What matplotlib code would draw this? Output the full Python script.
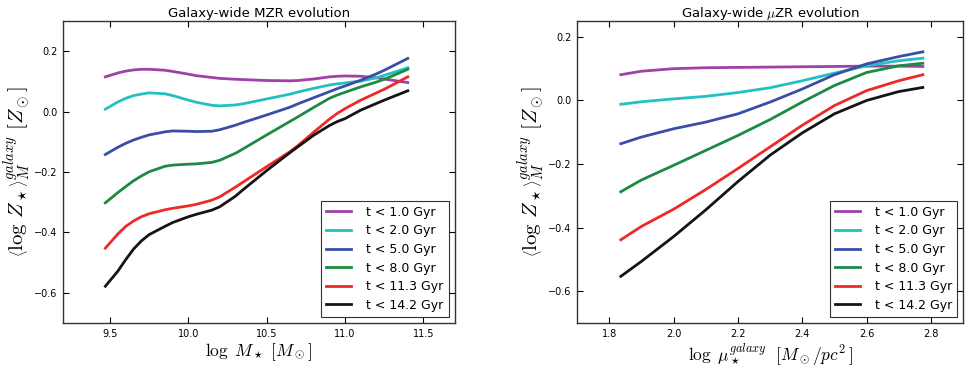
import matplotlib
matplotlib.use("Agg")
import matplotlib.pyplot as plt
from matplotlib.ticker import MultipleLocator

plt.rcParams['mathtext.fontset'] = 'cm'
plt.rcParams['font.family'] = 'DejaVu Sans'

labels = ["t < 1.0 Gyr", "t < 2.0 Gyr", "t < 5.0 Gyr", "t < 8.0 Gyr", "t < 11.3 Gyr", "t < 14.2 Gyr"]
colors = ["#a040a8", "#22c0c0", "#3a4ea6", "#1b8a42", "#f02828", "#141414"]

# left panel: mass-metallicity relation
mass_x = [9.47, 9.55, 9.6, 9.65, 9.7, 9.75, 9.85, 9.9, 10.0, 10.05, 10.15, 10.2, 10.3, 10.35, 10.5,
          10.65, 10.7, 10.8, 10.9, 10.95, 11.0, 11.1, 11.2, 11.25, 11.4]
mzr_1 = [0.115, 0.128, 0.134, 0.138, 0.140, 0.140, 0.137, 0.133, 0.124, 0.119, 0.113, 0.110, 0.107, 0.106, 0.103,
         0.102, 0.103, 0.108, 0.115, 0.117, 0.118, 0.117, 0.112, 0.108, 0.096]
mzr_2 = [0.008, 0.032, 0.044, 0.053, 0.058, 0.062, 0.059, 0.053, 0.038, 0.031, 0.021, 0.019, 0.022, 0.026, 0.042,
         0.058, 0.065, 0.077, 0.088, 0.092, 0.095, 0.101, 0.112, 0.120, 0.145]
mzr_5 = [-0.142, -0.118, -0.105, -0.094, -0.085, -0.077, -0.067, -0.064, -0.065, -0.066, -0.065, -0.060, -0.045, -0.036, -0.011,
         0.015, 0.026, 0.046, 0.066, 0.076, 0.085, 0.104, 0.125, 0.137, 0.176]
mzr_8 = [-0.302, -0.268, -0.248, -0.229, -0.213, -0.199, -0.181, -0.177, -0.174, -0.173, -0.168, -0.161, -0.138, -0.123, -0.077,
         -0.032, -0.017, 0.014, 0.044, 0.055, 0.064, 0.082, 0.098, 0.107, 0.140]
mzr_11 = [-0.452, -0.405, -0.380, -0.362, -0.348, -0.338, -0.325, -0.320, -0.312, -0.307, -0.293, -0.282, -0.250, -0.233, -0.182,
          -0.132, -0.112, -0.068, -0.025, -0.006, 0.010, 0.038, 0.062, 0.074, 0.115]
mzr_14 = [-0.578, -0.528, -0.490, -0.455, -0.428, -0.407, -0.380, -0.367, -0.348, -0.340, -0.326, -0.315, -0.280, -0.258, -0.195,
          -0.135, -0.116, -0.078, -0.046, -0.033, -0.023, 0.005, 0.027, 0.038, 0.069]

# right panel: surface density-metallicity relation
mu_x = [1.836, 1.9, 2.0, 2.1, 2.2, 2.3, 2.4, 2.5, 2.6, 2.7, 2.775]
muzr_1 = [0.081, 0.092, 0.100, 0.103, 0.104, 0.105, 0.106, 0.107, 0.108, 0.108, 0.107]
muzr_2 = [-0.012, -0.004, 0.005, 0.013, 0.025, 0.040, 0.062, 0.086, 0.109, 0.125, 0.133]
muzr_5 = [-0.136, -0.115, -0.089, -0.068, -0.042, -0.005, 0.036, 0.081, 0.115, 0.138, 0.153]
muzr_8 = [-0.287, -0.250, -0.204, -0.157, -0.110, -0.060, -0.005, 0.047, 0.088, 0.109, 0.117]
muzr_11 = [-0.438, -0.396, -0.342, -0.280, -0.214, -0.146, -0.078, -0.016, 0.031, 0.062, 0.081]
muzr_14 = [-0.553, -0.506, -0.428, -0.344, -0.255, -0.172, -0.102, -0.042, 0.000, 0.028, 0.041]

mzr = [mzr_1, mzr_2, mzr_5, mzr_8, mzr_11, mzr_14]
muzr = [muzr_1, muzr_2, muzr_5, muzr_8, muzr_11, muzr_14]

fig = plt.figure(figsize=(9.65, 3.68), dpi=100)
ax1 = fig.add_axes([0.0653, 0.122, 0.406, 0.821])
ax2 = fig.add_axes([0.598, 0.122, 0.400, 0.821])

for ys, c, lab in zip(mzr, colors, labels):
    ax1.plot(mass_x, ys, color=c, lw=2, label=lab)
for ys, c, lab in zip(muzr, colors, labels):
    ax2.plot(mu_x, ys, color=c, lw=2, label=lab)

ylab = r'$\left\langle\log\,Z_\star\right\rangle_M^{galaxy}\ [Z_\odot]$'

ax1.set_xlim(9.2, 11.7)
ax1.set_ylim(-0.7, 0.3)
ax1.xaxis.set_major_locator(MultipleLocator(0.5))
ax1.yaxis.set_major_locator(MultipleLocator(0.2))
ax1.set_title("Galaxy-wide MZR evolution", fontsize=9.5, pad=3)
ax1.set_xlabel(r'$\log\ M_\star\ [M_\odot]$', fontsize=12.5, labelpad=2)
ax1.set_ylabel(ylab, fontsize=15, labelpad=1)

ax2.set_xlim(1.7, 2.9)
ax2.set_ylim(-0.7, 0.25)
ax2.xaxis.set_major_locator(MultipleLocator(0.2))
ax2.yaxis.set_major_locator(MultipleLocator(0.2))
ax2.set_title(r"Galaxy-wide $\mu$ZR evolution", fontsize=9.5, pad=3)
ax2.set_xlabel(r'$\log\ \mu_\star^{galaxy}\ \ [M_\odot/pc^2\,]$', fontsize=12.5, labelpad=2)
ax2.set_ylabel(ylab, fontsize=15, labelpad=1)

for ax in (ax1, ax2):
    ax.tick_params(direction='in', top=True, right=True, labelsize=7, length=4, width=0.8, pad=4)
    for s in ax.spines.values():
        s.set_linewidth(1.0)
        s.set_color('#333333')
    leg = ax.legend(loc='lower right', fontsize=9, frameon=True, fancybox=False, borderaxespad=0.5,
                    handlelength=2.0, labelspacing=0.45, borderpad=0.4, handletextpad=1.2)
    leg.get_frame().set_edgecolor('black')
    leg.get_frame().set_linewidth(0.8)

fig.savefig("out.png", dpi=100)
